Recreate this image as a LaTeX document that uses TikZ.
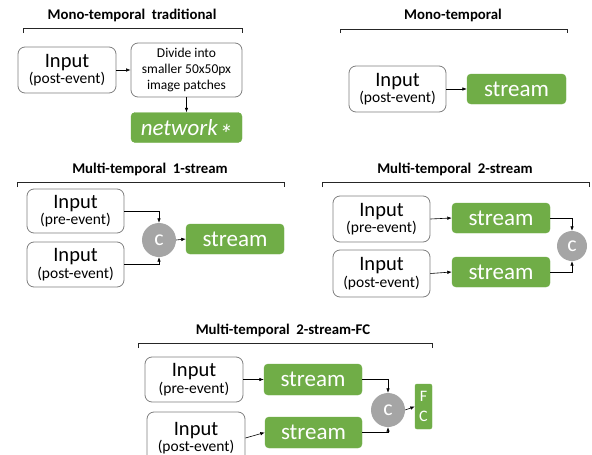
\documentclass[tikz,border=0pt]{standalone}
\usepackage{fontspec}
\setmainfont{Carlito}
\usetikzlibrary{arrows.meta}
\definecolor{grn}{HTML}{70AD47}
\definecolor{cgray}{HTML}{A5A5A5}
\definecolor{bgray}{HTML}{7F7F7F}
\tikzset{
  inbox/.style={draw=bgray, line width=0.8pt, rounded corners=7pt, fill=white, align=center, inner sep=0pt},
  gbox/.style={fill=grn, draw=grn, rounded corners=4pt, text=white, inner sep=0pt, align=center},
  ccirc/.style={circle, fill=cgray, text=white, inner sep=0pt, font=\fontsize{22}{22}\selectfont},
  arr/.style={-{Latex[length=4.5pt,width=3.5pt]}, line width=0.6pt, black},
  brk/.style={line width=1pt, black!85},
  ttl/.style={font=\fontsize{14.8}{16}\selectfont\bfseries},
}
\newcommand{\inp}[1]{{\fontsize{20.5}{22}\selectfont Input}\\[1pt]{\fontsize{15.5}{17}\selectfont (#1)}}
\newcommand{\strm}{\fontsize{23}{24}\selectfont stream}
\begin{document}
\begin{tikzpicture}[x=1pt,y=-1pt]
\useasboundingbox (0,0) rectangle (592,455);
\begin{scope}
\clip (0,0) rectangle (592,455);
% Panel 1
\node[ttl] (t1) at (132,15) {Mono-temporal\ \ traditional};
\draw[brk] (23,33) -- (23,28) -- (242,28) -- (242,33);
\node[inbox, minimum width=98pt, minimum height=46pt] (i1) at (67,70) {\inp{post-event}};
\node[inbox, minimum width=111pt, minimum height=54pt, font=\fontsize{13.5}{16}\selectfont] (d1) at (186.5,70) {Divide into\\smaller 50x50px\\image patches};
\node[gbox, minimum width=111pt, minimum height=30pt] (n1) at (186.5,127.5) {\fontsize{23}{24}\selectfont\itshape network\hspace{1pt}{\fontsize{27}{27}\selectfont\smash{\raisebox{-8pt}{*}}}};
\draw[arr] (i1.east) -- (d1.west);
\draw[arr] (d1.south) -- (n1.north);
% Panel 2
\node[ttl] (t2) at (453,15) {Mono-temporal};
\draw[brk] (340,33) -- (340,29) -- (567,29) -- (567,33);
\node[inbox, minimum width=97pt, minimum height=46pt] (i2) at (397.5,89) {\inp{post-event}};
\node[gbox, minimum width=99pt, minimum height=30pt] (s2) at (516.5,89) {\strm};
\draw[arr] (i2.east) -- (s2.west);
% Panel 3
\node[ttl] (t3) at (150,169) {Multi-temporal\ \ 1-stream};
\draw[brk] (17,187) -- (17,182) -- (284,182) -- (284,187);
\node[inbox, minimum width=97pt, minimum height=44pt] (p3) at (75.5,211) {\inp{pre-event}};
\node[inbox, minimum width=97pt, minimum height=45pt] (q3) at (75.5,264.5) {\inp{post-event}};
\node[ccirc, minimum size=34pt] (c3) at (159,240) {c};
\node[gbox, minimum width=98pt, minimum height=30pt] (s3) at (235,239) {\strm};
\draw[arr] (p3.east) -| (c3.north);
\draw[arr] (q3.east) -| (c3.south);
\draw[arr] (c3.east) -- (s3.west);
% Panel 4
\node[ttl] (t4) at (455,169) {Multi-temporal\ \ 2-stream};
\draw[brk] (322,187) -- (322,182) -- (589,182) -- (589,187);
\node[inbox, minimum width=97pt, minimum height=46pt] (p4) at (381.5,219) {\inp{pre-event}};
\node[inbox, minimum width=97pt, minimum height=47pt] (q4) at (381.5,273.5) {\inp{post-event}};
\node[gbox, minimum width=98pt, minimum height=30pt] (a4) at (501,218) {\strm};
\node[gbox, minimum width=98pt, minimum height=30pt] (b4) at (501,272) {\strm};
\node[ccirc, minimum size=30pt] (c4) at (572,246) {c};
\draw[arr] (p4.east) -- (a4.west);
\draw[arr] (q4.east) -- (b4.west);
\draw[arr] (a4.east) -| (c4.north);
\draw[arr] (b4.east) -| (c4.south);
% Panel 5
\node[ttl] (t5) at (283,330) {Multi-temporal\ \ 2-stream-FC};
\draw[brk] (138,348) -- (138,343) -- (432,343) -- (432,348);
\node[inbox, minimum width=98pt, minimum height=45pt] (p5) at (194,379.5) {\inp{pre-event}};
\node[inbox, minimum width=98pt, minimum height=52pt] (q5) at (196,438) {\inp{post-event}};
\node[gbox, minimum width=98pt, minimum height=31pt] (a5) at (313,379.5) {\strm};
\node[gbox, minimum width=97pt, minimum height=31pt] (b5) at (313.5,432.5) {\strm};
\node[ccirc, minimum size=34pt] (c5) at (388,410) {c};
\node[gbox, rounded corners=2pt, minimum width=17pt, minimum height=45pt, font=\fontsize{16}{20}\selectfont] (f5) at (423.5,406.5) {F\\C};
\draw[arr] (p5.east) -- (a5.west);
\draw[arr] (q5.east) -- (b5.west);
\draw[arr] (a5.east) -| (c5.north);
\draw[arr] (b5.east) -| (c5.south);
\draw[arr] (c5.east) -- (f5.west);
\end{scope}
\end{tikzpicture}
\end{document}
